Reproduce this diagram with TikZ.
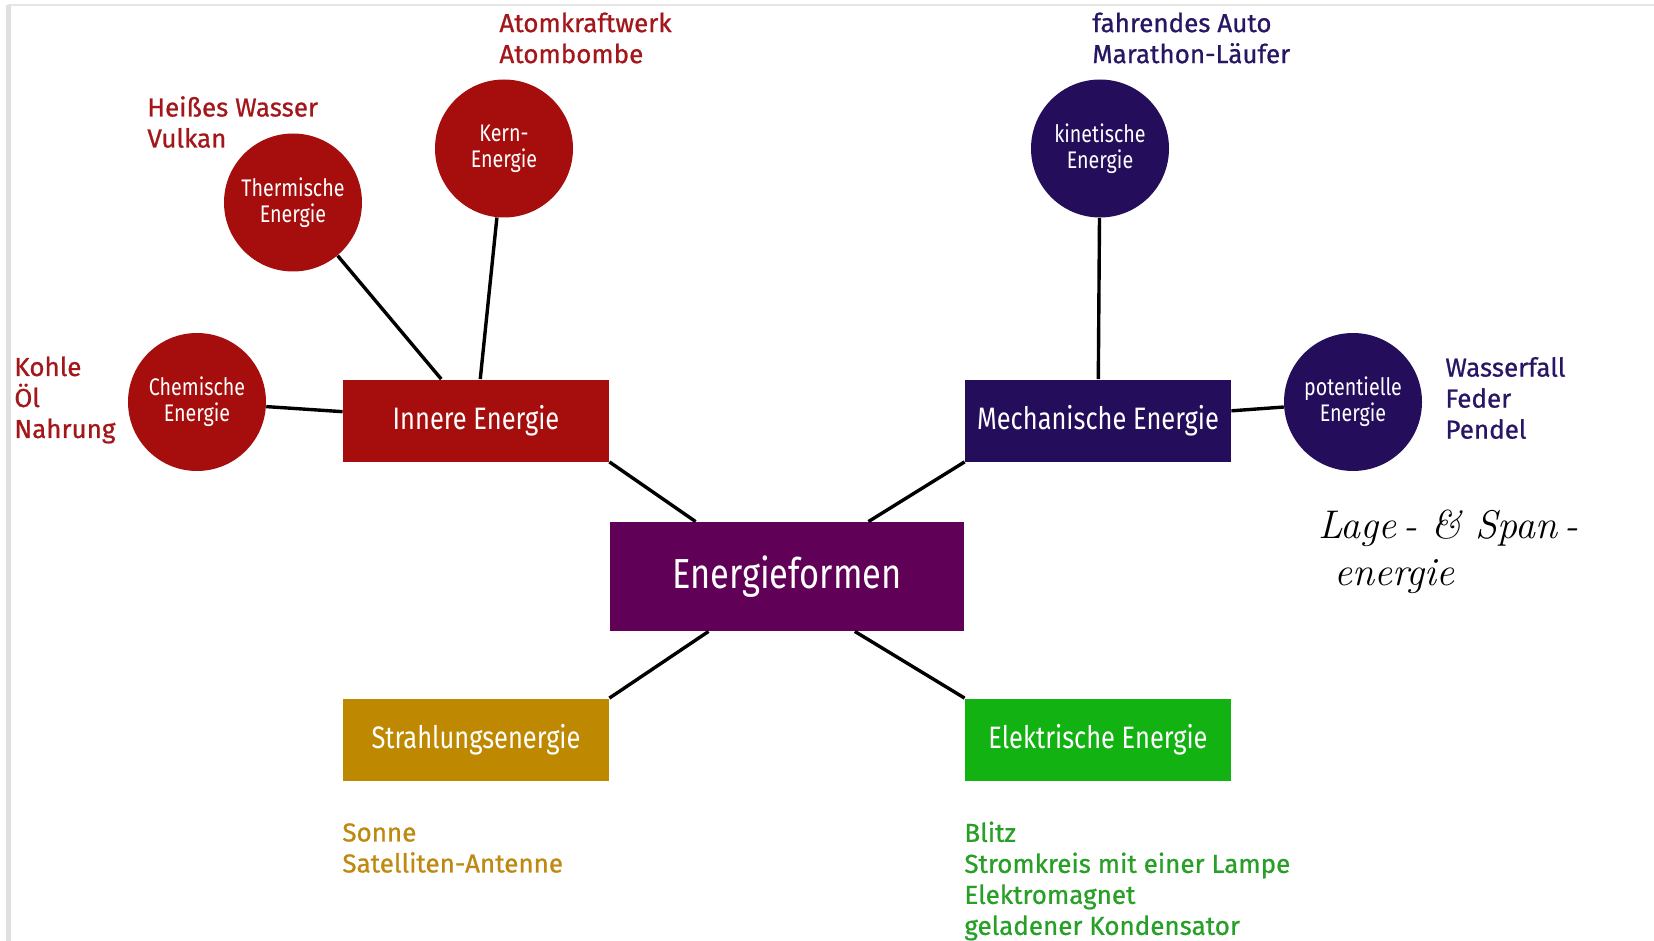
\documentclass[tikz,border=0pt]{standalone}
\usepackage{fontspec}
\setmainfont{Fira Sans}
\newfontfamily\narrowfont[FakeStretch=0.82]{Fira Sans}
\newfontfamily\labelfont[FakeBold=0.8]{Fira Sans}
\newfontfamily\handfont{Latin Modern Roman}
\definecolor{innerred}{RGB}{166,14,14}
\definecolor{mechblue}{RGB}{36,14,92}
\definecolor{formpurple}{RGB}{96,0,86}
\definecolor{strahlgold}{RGB}{190,137,0}
\definecolor{elekgreen}{RGB}{18,178,18}
\definecolor{redtext}{RGB}{163,22,26}
\definecolor{bluetext}{RGB}{40,22,100}
\definecolor{goldtext}{RGB}{190,137,16}
\definecolor{greentext}{RGB}{40,160,40}
\begin{document}
\begin{tikzpicture}[x=0.5pt,y=-0.5pt,
  every node/.style={font=\fontsize{13}{15.5}\selectfont},
  formbox/.style={rectangle,inner sep=0pt,text=white,minimum width=133pt,minimum height=41pt,font=\narrowfont\fontsize{15.5}{18}\selectfont},
  formcirc/.style={circle,inner sep=0pt,text=white,minimum size=69pt,align=center,font=\narrowfont\fontsize{12}{13}\selectfont},
  example/.style={inner sep=0pt,anchor=west,align=left,font=\labelfont\fontsize{13}{15.5}\selectfont},
  link/.style={line width=1.7pt}]
\useasboundingbox (0,0) rectangle (1654,941);
\draw[black!12,line width=2.5pt] (8,941) -- (8,5);
\draw[black!10,line width=1pt] (8,5) -- (1654,5);
% boxes
\node[formbox,fill=formpurple,minimum width=177pt,minimum height=54.5pt,font=\narrowfont\fontsize{21}{24}\selectfont] (formen) at (787,576.5) {Energieformen};
\node[formbox,fill=innerred] (innere) at (476,420.5) {Innere Energie};
\node[formbox,fill=mechblue] (mech) at (1098,420.5) {Mechanische Energie};
\node[formbox,fill=strahlgold] (strahl) at (476,739.5) {Strahlungsenergie};
\node[formbox,fill=elekgreen] (elek) at (1098,739.5) {Elektrische Energie};
% circles
\node[formcirc,fill=innerred] (chem) at (197,402) {Chemische\\Energie};
\node[formcirc,fill=innerred] (therm) at (293,202.5) {Thermische\\Energie};
\node[formcirc,fill=innerred] (kern) at (504,148.5) {Kern-\\Energie};
\node[formcirc,fill=mechblue] (kin) at (1100,148.5) {kinetische\\Energie};
\node[formcirc,fill=mechblue] (pot) at (1353,402) {potentielle\\Energie};
% examples
\node[example,text=redtext] (atomtxt) at (499,38) {Atomkraftwerk\\Atombombe};
\node[example,text=redtext] (waermetxt) at (147,122) {Heißes Wasser\\Vulkan};
\node[example,text=redtext] (chemtxt) at (14,400) {Kohle\\Öl\\Nahrung};
\node[example,text=bluetext] (kintxt) at (1092,38) {fahrendes Auto\\Marathon-Läufer};
\node[example,text=bluetext] (pottxt) at (1445,398) {Wasserfall\\Feder\\Pendel};
\node[example,text=goldtext] (strahltxt) at (342,848) {Sonne\\Satelliten-Antenne};
\node[example,text=greentext] (elektxt) at (964,881) {Blitz\\Stromkreis mit einer Lampe\\Elektromagnet\\geladener Kondensator};
\node[example,font=\handfont\itshape\fontsize{20}{24}\selectfont] (note1) at (1318,528) {Lage\,- \& Span\,-};
\node[example,font=\handfont\itshape\fontsize{20}{24}\selectfont] (note2) at (1334,577) {energie};
% connectors
\draw[link] (chem) -- (innere);
\draw[link] (therm) -- (innere);
\draw[link] (kern) -- (innere);
\draw[link] (kin) -- (mech);
\draw[link] (pot) -- (mech);
\draw[link] (innere.south east) -- (formen.149);
\draw[link] (mech.south west) -- (formen.34);
\draw[link] (strahl.north east) -- (formen.215);
\draw[link] (elek.north west) -- (formen.321);
\end{tikzpicture}
\end{document}
